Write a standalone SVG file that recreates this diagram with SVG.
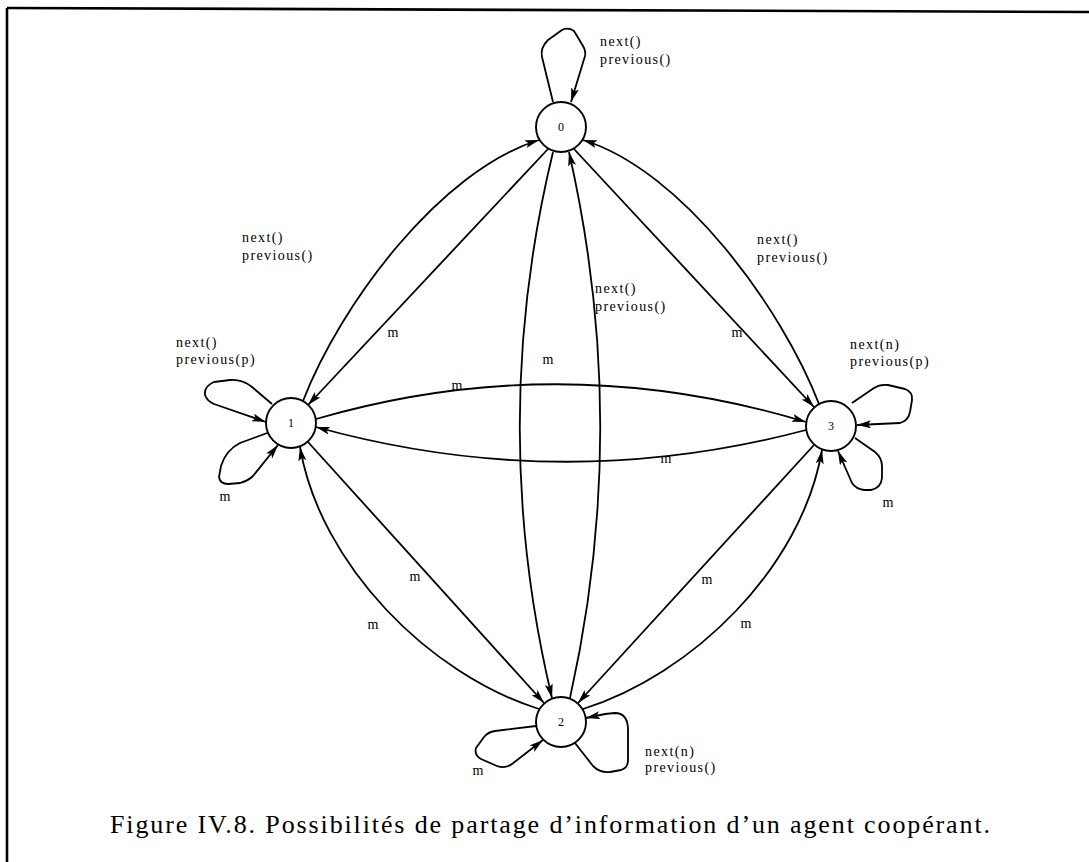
<svg xmlns="http://www.w3.org/2000/svg" width="1089" height="862" viewBox="0 0 1089 862">
<style>
.frame{stroke:#000;stroke-width:2.6;fill:none}
.node{fill:#fff;stroke:#000;stroke-width:1.9}
.e{fill:none;stroke:#000;stroke-width:1.8;stroke-linejoin:round;marker-end:url(#ah)}
.nl{font-family:"Liberation Serif",serif;font-size:12px;text-anchor:middle;fill:#000}
.lb{font-family:"Liberation Serif",serif;font-size:14px;letter-spacing:1.4px;fill:#000}
.m{font-family:"Liberation Serif",serif;font-size:14px;text-anchor:middle;fill:#000}
.cap{font-family:"Liberation Serif",serif;font-size:26px;fill:#000}
</style>
<defs>
<marker id="ah" viewBox="0 0 14 8" refX="14" refY="4" markerWidth="14" markerHeight="8" markerUnits="userSpaceOnUse" orient="auto">
<path d="M0,0 L14,4 L0,8 L3,4 z" fill="#000"/>
</marker>
</defs>
<rect width="1089" height="862" fill="#fff"/>
<g id="frame">
<line class="frame" x1="7" y1="8" x2="1089" y2="12"/>
<line class="frame" x1="7" y1="8" x2="7" y2="862"/>
</g>
<g id="connectors">
<path class="e" d="M548,149 L308,405"/>
<path class="e" d="M303,401 C340,305 440,170 539,140"/>
<path class="e" d="M574,149 L814,407"/>
<path class="e" d="M819,404 C782,308 682,170 583,140"/>
<path class="e" d="M316,419 Q561,348 806,422"/>
<path class="e" d="M806,430 Q561,495 316,427"/>
<path class="e" d="M553,152 Q487,425 552,698"/>
<path class="e" d="M570,698 Q631,425 569,152"/>
<path class="e" d="M308,442 L544,703"/>
<path class="e" d="M539,709 C430,675 320,565 300,447"/>
<path class="e" d="M814,445 L578,703"/>
<path class="e" d="M583,709 C692,675 802,568 822,450"/>
<path class="e" d="M553,102 L542,57 Q540,48 548,40 L562,30 Q568,27 574,31 L583,46 Q586,51 585,56 L571,102"/>
<path class="e" d="M272,404 L252,387 Q242,379 230,380 L214,382 Q204,386 205,395 Q207,401 214,404 L266,422"/>
<path class="e" d="M270,432 L240,443 Q226,450 221,466 L219,477 Q220,484 228,484 L240,483 Q248,481 253,476 L278,445"/>
<path class="e" d="M852,403 L874,388 Q880,384 888,385 L905,389 Q913,392 912,400 L910,412 Q908,421 900,423 L857,425"/>
<path class="e" d="M855,438 L875,452 Q882,458 882,466 L882,478 Q881,488 871,490 L864,490 Q856,489 852,483 L838,451"/>
<path class="e" d="M536,726 L495,731 Q488,732 484,737 L476,748 Q474,755 481,759 L497,766 Q505,769 512,764 L543,740"/>
<path class="e" d="M575,743 L593,766 Q600,773 610,772 L621,770 Q628,768 628,760 L628,728 Q627,713 615,713 L605,714 L586,718"/>
</g>
<g id="node0"><circle class="node" cx="561" cy="127" r="25"/><text class="nl" x="561" y="131">0</text></g>
<g id="node1"><circle class="node" cx="291" cy="423" r="25"/><text class="nl" x="291" y="427">1</text></g>
<g id="node3"><circle class="node" cx="831" cy="426" r="25"/><text class="nl" x="831" y="430">3</text></g>
<g id="node2"><circle class="node" cx="561" cy="722" r="25"/><text class="nl" x="561" y="726">2</text></g>
<g id="labels">
<text class="lb" x="600" y="46">next()</text>
<text class="lb" x="600" y="64">previous()</text>
<text class="lb" x="242" y="242">next()</text>
<text class="lb" x="242" y="260">previous()</text>
<text class="lb" x="757" y="244">next()</text>
<text class="lb" x="757" y="262">previous()</text>
<text class="lb" x="595" y="293">next()</text>
<text class="lb" x="595" y="311">previous()</text>
<text class="lb" x="176" y="347">next()</text>
<text class="lb" x="176" y="364">previous(p)</text>
<text class="lb" x="850" y="349">next(n)</text>
<text class="lb" x="850" y="366">previous(p)</text>
<text class="lb" x="645" y="756">next(n)</text>
<text class="lb" x="645" y="772">previous()</text>
<text class="m" x="393" y="337">m</text>
<text class="m" x="737" y="337">m</text>
<text class="m" x="548" y="364">m</text>
<text class="m" x="457" y="390">m</text>
<text class="m" x="666" y="463">m</text>
<text class="m" x="225" y="501">m</text>
<text class="m" x="888" y="507">m</text>
<text class="m" x="415" y="581">m</text>
<text class="m" x="373" y="629">m</text>
<text class="m" x="707" y="584">m</text>
<text class="m" x="746" y="628">m</text>
<text class="m" x="478" y="775">m</text>
</g>
<text class="cap" x="110" y="833" textLength="880" lengthAdjust="spacing">Figure IV.8. Possibilités de partage d’information d’un agent coopérant.</text>
</svg>
